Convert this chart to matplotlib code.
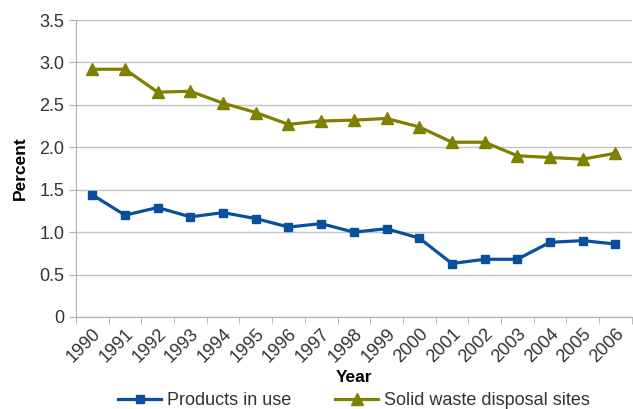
import matplotlib.pyplot as plt
import numpy as np

years = [str(y) for y in range(1990, 2007)]
products_in_use = [1.44, 1.20, 1.29, 1.18, 1.23, 1.16, 1.06, 1.10, 1.00, 1.04,
                   0.93, 0.63, 0.68, 0.68, 0.88, 0.90, 0.86]
solid_waste = [2.92, 2.92, 2.65, 2.66, 2.52, 2.41, 2.27, 2.31, 2.32, 2.34,
               2.24, 2.06, 2.06, 1.90, 1.88, 1.86, 1.93]

plt.rcParams['font.family'] = ['Liberation Sans', 'DejaVu Sans']

fig = plt.figure(figsize=(6.33, 4.09), dpi=100)
ax = fig.add_axes([0.12, 0.225, 0.878, 0.726])

x = np.arange(len(years))
ax.plot(x, products_in_use, color='#0a4f9e', lw=2.3, marker='s', ms=6,
        label='Products in use')
ax.plot(x, solid_waste, color='#7f7f00', lw=2.3, marker='^', ms=8,
        label='Solid waste disposal sites')

ax.set_xlim(-0.5, len(years) - 0.5)
ax.set_ylim(0, 3.5)
ax.set_yticks(np.arange(0, 3.51, 0.5))
ax.set_yticklabels(['0'] + ['%.1f' % v for v in np.arange(0.5, 3.51, 0.5)])
ax.set_xticks(x)
ax.set_xticklabels(years, rotation=45, ha='right', rotation_mode='anchor')
ax.set_xticks(np.arange(-0.5, len(years), 1), minor=True)
ax.tick_params(axis='x', which='major', length=0, pad=6)
ax.tick_params(axis='x', which='minor', length=5, color='#b0b0b0')
ax.tick_params(axis='y', length=5, color='#b0b0b0')
ax.tick_params(labelsize=13, labelcolor='#333333')

ax.grid(axis='y', color='#c4c4c4', lw=1)
ax.set_axisbelow(True)
for s in ['top', 'right']:
    ax.spines[s].set_visible(False)
for s in ['left', 'bottom']:
    ax.spines[s].set_color('#b0b0b0')

ax.set_ylabel('Percent', fontsize=12.5, fontweight='bold', labelpad=8)
ax.set_xlabel('Year', fontsize=12.5, fontweight='bold', labelpad=3)

fig.legend(loc='lower center', ncol=2, frameon=False, fontsize=13,
           bbox_to_anchor=(0.559, -0.04), handlelength=2.4, handletextpad=0.3,
           columnspacing=2.45, labelcolor='#333333')

fig.savefig('out.png', dpi=100)
